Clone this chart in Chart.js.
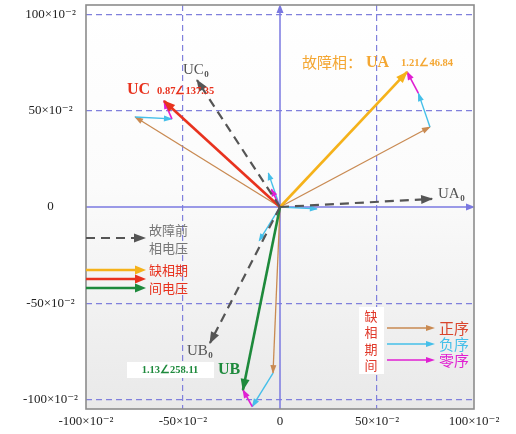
<!DOCTYPE html>
<html><head><meta charset="utf-8">
<script src="https://cdn.jsdelivr.net/npm/chart.js@4"></script>
<style>html,body{margin:0;padding:0;background:#fff;} #wrap{width:516px;height:434px;position:relative;}</style>
</head><body><div id="wrap"><canvas id="c" width="516" height="434"></canvas></div>
<script>
// ---- data (in plot units) ----
const tickValues = [-100, -50, 0, 50, 100];
const tickLabels = ['-100×10⁻²', '-50×10⁻²', '0', '50×10⁻²', '100×10⁻²'];
const phases = ['A', 'B', 'C'];
const preFault = [[78.4, 4.2], [-36.1, -70.7], [-42.8, 66.0]];      // UA0, UB0, UC0 (dashed)
const faultV   = [[65.5, 70.2], [-19.1, -95.1], [-59.8, 55.1]];     // UA, UB, UC during open phase
const posSeq   = [[77.3, 41.6], [-3.6, -86.3], [-74.7, 46.8]];      // positive sequence
const negSeq   = [[-6.0, 17.6], [-10.7, -17.5], [19.0, -1.0]];      // negative sequence
const zeroSeq  = [-4.4, 9.2];                                        // zero sequence
const faultText = ['1.21∠46.84', '1.13∠258.11', '0.87∠137.35'];

const C = {
  fault: ['#f5b21a', '#1e8a3c', '#e8321e'],
  pre: '#555555', pos: '#c98a52', neg: '#45bfe9', zero: '#e01fd2',
  grid: '#8080dc', axis: '#7a78e0'
};

const pt = (a) => ({x: a[0], y: a[1]});
const datasets = [];
function vec(from, to, color, width, order, dash, head) {
  datasets.push({
    data: [pt(from), pt(to)], showLine: true, borderColor: color, backgroundColor: color,
    borderWidth: width, borderDash: dash || [], pointRadius: 0, pointHoverRadius: 0,
    order: order, head: head, tension: 0, fill: false, borderCapStyle: 'butt'
  });
}
phases.forEach((p, i) => {
  const o = [0, 0];
  const p1 = posSeq[i];
  const p2 = [p1[0] + negSeq[i][0], p1[1] + negSeq[i][1]];
  vec(o, p1, C.pos, 1.3, 6, null, [8, 3]);
  vec(p1, p2, C.neg, 1.4, 5, null, [8, 3]);
  vec(p2, faultV[i], C.zero, 1.6, 4, null, [8, 3.2]);
  vec(o, negSeq[i], C.neg, 1.4, 5, null, [7, 3]);
  vec(o, faultV[i], C.fault[i], 2.6, 3, null, [11, 4.5]);
  vec(o, preFault[i], C.pre, 2.2, 2, [9, 6], [11, 4.5]);
});
vec([0, 0], zeroSeq, C.zero, 1.6, 4, null, [7, 3]);

function arrow(ctx, x1, y1, x2, y2, color, L, W) {
  const dx = x2 - x1, dy = y2 - y1, len = Math.hypot(dx, dy) || 1;
  const ux = dx / len, uy = dy / len;
  ctx.save();
  ctx.fillStyle = color;
  ctx.beginPath();
  ctx.moveTo(x2 + ux * 1, y2 + uy * 1);
  ctx.lineTo(x2 - ux * L - uy * W, y2 - uy * L + ux * W);
  ctx.lineTo(x2 - ux * L + uy * W, y2 - uy * L - ux * W);
  ctx.closePath();
  ctx.fill();
  ctx.restore();
}
function line(ctx, x1, y1, x2, y2, color, w, dash) {
  ctx.save();
  ctx.strokeStyle = color; ctx.lineWidth = w; ctx.setLineDash(dash || []);
  ctx.beginPath(); ctx.moveTo(x1, y1); ctx.lineTo(x2, y2); ctx.stroke();
  ctx.restore();
}
function txt(ctx, s, x, y, color, font, align) {
  ctx.save();
  ctx.fillStyle = color; ctx.font = font; ctx.textAlign = align || 'left'; ctx.textBaseline = 'middle';
  ctx.fillText(s, x, y);
  ctx.restore();
}
function sub(ctx, main, s, x, y, color, size) {
  ctx.save();
  ctx.fillStyle = color; ctx.textBaseline = 'middle'; ctx.textAlign = 'left';
  ctx.font = size + 'px "Liberation Serif"';
  ctx.fillText(main, x, y);
  const w = ctx.measureText(main).width;
  ctx.font = 'bold ' + Math.round(size * 0.62) + 'px "Liberation Serif"';
  ctx.fillText(s, x + w + 0.5, y + size * 0.3);
  ctx.restore();
}
const CJK = '"Noto Sans CJK SC"';

const deco = {
  id: 'deco',
  beforeDraw(chart) {
    const {ctx, chartArea: a} = chart;
    const g = ctx.createLinearGradient(0, a.top, 0, a.bottom);
    g.addColorStop(0, '#ffffff'); g.addColorStop(0.45, '#fbfbfb'); g.addColorStop(1, '#e9e9e9');
    ctx.save(); ctx.fillStyle = g; ctx.fillRect(a.left, a.top, a.right - a.left, a.bottom - a.top); ctx.restore();
  },
  beforeDatasetsDraw(chart) {
    const {ctx, chartArea: a, scales} = chart;
    const x0 = scales.x.getPixelForValue(0), y0 = scales.y.getPixelForValue(0);
    line(ctx, a.left, y0, a.right - 2, y0, C.axis, 1.5);
    line(ctx, x0, a.bottom, x0, a.top + 2, C.axis, 1.5);
    arrow(ctx, a.right - 10, y0, a.right, y0, C.axis, 8, 3.5);
    arrow(ctx, x0, a.top + 10, x0, a.top, C.axis, 8, 3.5);
    ctx.save(); ctx.strokeStyle = '#8c8c8c'; ctx.lineWidth = 1.6;
    ctx.strokeRect(a.left, a.top, a.right - a.left, a.bottom - a.top); ctx.restore();
  },
  afterDatasetDraw(chart, args) {
    const ds = chart.data.datasets[args.index];
    const pts = args.meta.data;
    if (!ds.head || pts.length < 2) return;
    const p = pts[pts.length - 2], q = pts[pts.length - 1];
    arrow(chart.ctx, p.x, p.y, q.x, q.y, ds.borderColor, ds.head[0], ds.head[1]);
  },
  afterDraw(chart) {
    const {ctx, chartArea: a} = chart;
    // fault phase A label
    txt(ctx, '故障相：', 302, 62, '#f4a733', '15px ' + CJK);
    txt(ctx, 'UA', 366, 63, '#f4a733', 'bold 16px "Liberation Serif"');
    txt(ctx, faultText[0], 401, 63, '#f4a733', 'bold 10.5px "Liberation Serif"');
    // UA0
    sub(ctx, 'UA', '0', 438, 194, '#555', 15);
    // UC
    txt(ctx, 'UC', 127, 90, '#e8321e', 'bold 16px "Liberation Serif"');
    txt(ctx, faultText[2], 157, 91, '#e8321e', 'bold 10.5px "Liberation Serif"');
    sub(ctx, 'UC', '0', 183, 70, '#555', 15);
    // UB
    sub(ctx, 'UB', '0', 187, 351, '#555', 15);
    ctx.save(); ctx.fillStyle = '#fff'; ctx.fillRect(127, 362, 87, 16); ctx.restore();
    txt(ctx, faultText[1], 170, 370, '#1e8a3c', 'bold 10.5px "Liberation Serif"', 'center');
    txt(ctx, 'UB', 218, 370, '#1e8a3c', 'bold 16px "Liberation Serif"');
    // left legend
    const L0 = a.left, L1 = 145;
    line(ctx, L0, 238, L1 - 8, 238, C.pre, 2.2, [9, 6]);
    arrow(ctx, L0, 238, L1, 238, C.pre, 11, 4.5);
    txt(ctx, '故障前', 149, 230, '#777', '13px ' + CJK);
    txt(ctx, '相电压', 149, 248, '#777', '13px ' + CJK);
    [[270, C.fault[0]], [279, C.fault[2]], [288, C.fault[1]]].forEach(([y, c]) => {
      line(ctx, L0, y, L1 - 6, y, c, 2.6);
      arrow(ctx, L0, y, L1, y, c, 10, 4.5);
    });
    txt(ctx, '缺相期', 149, 270, '#e8321e', '13px ' + CJK);
    txt(ctx, '间电压', 149, 288, '#e8321e', '13px ' + CJK);
    // right legend
    ctx.save(); ctx.fillStyle = '#fff'; ctx.fillRect(359, 307, 25, 67); ctx.restore();
    ['缺', '相', '期', '间'].forEach((ch, k) => txt(ctx, ch, 371, 316 + k * 16.5, '#e0392a', '13px ' + CJK, 'center'));
    [[328, C.pos, '正序', '#d9442c'], [344, C.neg, '负序', C.neg], [360, C.zero, '零序', C.zero]].forEach(([y, c, s, tc]) => {
      line(ctx, 387, y, 428, y, c, 1.4);
      arrow(ctx, 387, y, 434, y, c, 8, 3);
      txt(ctx, s, 439, y, tc, '15px ' + CJK);
    });
  }
};

const gridDash = (ctx) => (ctx.tick && ctx.tick.value !== 0) ? [6, 4] : [];
const gridColor = (edge) => (ctx) => {
  if (!ctx.tick) return C.grid;
  if (ctx.tick.value === 0) return 'rgba(0,0,0,0)';
  if (edge && Math.abs(ctx.tick.value) === 100) return 'rgba(0,0,0,0)';
  return C.grid;
};
const tickCb = (v) => { const i = tickValues.indexOf(v); return i >= 0 ? tickLabels[i] : ''; };

new Chart(document.getElementById('c'), {
  type: 'scatter',
  data: {datasets},
  options: {
    responsive: false, animation: false, events: [],
    layout: {padding: {top: 5, right: 42, left: 0, bottom: 0}},
    plugins: {legend: {display: false}, tooltip: {enabled: false}},
    scales: {
      x: {
        type: 'linear', min: -100, max: 100,
        afterBuildTicks: (s) => { s.ticks = tickValues.map(v => ({value: v})); },
        afterFit: (s) => { s.height = 25; s.paddingLeft = 0; s.paddingRight = 0; },
        grid: {color: gridColor(true), lineWidth: 1.2, drawTicks: false},
        border: {display: false, dash: gridDash},
        ticks: {callback: tickCb, padding: 5, maxRotation: 0, autoSkip: false, color: '#222',
                font: {family: '"Liberation Serif", "DejaVu Serif"', size: 13}}
      },
      y: {
        type: 'linear', min: -105, max: 105,
        afterBuildTicks: (s) => { s.ticks = tickValues.map(v => ({value: v})); },
        afterFit: (s) => { s.width = 86; s.paddingTop = 0; s.paddingBottom = 0; },
        grid: {color: gridColor(false), lineWidth: 1.2, drawTicks: false},
        border: {display: false, dash: gridDash},
        ticks: {callback: tickCb, padding: 8, crossAlign: 'center', autoSkip: false, color: '#222',
                font: {family: '"Liberation Serif", "DejaVu Serif"', size: 13}}
      }
    }
  },
  plugins: [deco]
});
</script></body></html>
